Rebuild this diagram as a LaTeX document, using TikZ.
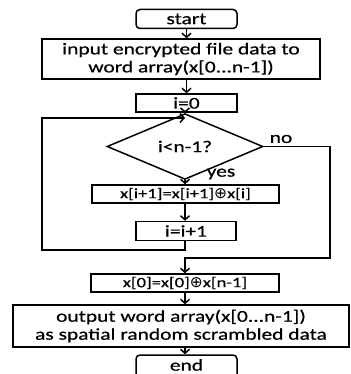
\documentclass[tikz,border=0pt]{standalone}
\usepackage{fontspec}
\setmainfont{Carlito}[FakeStretch=1.3,FakeBold=0.6]
\newfontfamily\symfont{DejaVu Sans}
\newcommand{\xorop}{{\symfont\fontsize{15.5}{15}\selectfont\raisebox{-0.3pt}{⊕}}}
\usetikzlibrary{arrows.meta,shapes.geometric}
\begin{document}
\begin{tikzpicture}[x=1pt,y=-1pt,
  every node/.style={font=\fontsize{16.5}{18}\selectfont, inner sep=0pt, align=center},
  small/.style={font=\fontsize{14.3}{17}\selectfont},
  pbox/.style={draw, line width=1.5pt},
  rbox/.style={draw, line width=1.5pt, rounded corners=4pt},
  arr/.style={line width=1.5pt, -{Straight Barb[length=4pt,width=9pt,line width=1.5pt]}},
  ln/.style={line width=1.5pt}]
\useasboundingbox (0,0) rectangle (350,374);
\begin{scope}
\clip (0,0) rectangle (350,374);
\node[rbox, minimum width=101pt, minimum height=19pt] (start) at (186.5,19) {start};
\node[pbox, minimum width=278pt, minimum height=40pt] (input) at (181,59) {input encrypted file data to\\word array(x[0...n-1])};
\node[pbox, minimum width=101pt, minimum height=18pt] (i0) at (186.5,103) {i=0};
\node[draw, line width=1.5pt, diamond, minimum width=156pt, minimum height=39pt] (dec) at (185,146.5) {i\textless n-1?};
\node[pbox, small, minimum width=187pt, minimum height=18pt] (upd) at (185.5,194) {x[i+1]=x[i+1]\xorop x[i]};
\node[pbox, minimum width=100pt, minimum height=19pt] (inc) at (186,231) {i=i+1};
\node[pbox, small, minimum width=188pt, minimum height=18pt] (x0) at (185,283) {x[0]=x[0]\xorop x[n-1]};
\node[pbox, minimum width=336pt, minimum height=42pt] (out) at (181,326) {output word array(x[0...n-1])\\as spatial random scrambled data};
\node[rbox, minimum width=101pt, minimum height=30pt] (end) at (186.5,370) {};
\node (endt) at (186.5,365) {end};
\end{scope}
\coordinate (j) at (185,118);
\coordinate (lb) at (42,250);
\coordinate (rb) at (330,258);
\node (yes) at (221,174) {yes};
\node (no) at (281,139) {no};
\draw[arr] (start.south -| start) -- (start |- input.north);
\draw[arr] (i0 |- input.south) -- (i0.north);
\draw[arr] (i0.south -| dec) -- (dec.north);
\draw[arr] (inc.south -| dec) |- (lb) |- (j);
\draw[arr] (dec.south) -- (upd.north -| dec);
\draw[arr] (upd.south -| dec) -- (inc.north -| dec);
\draw[arr] (dec.east) -| (rb) -| (x0.north -| dec);
\draw[arr] (x0.south -| dec) -- (out.north -| dec);
\draw[arr] (out.south -| dec) -- (end.north -| dec);
\end{tikzpicture}
\end{document}
